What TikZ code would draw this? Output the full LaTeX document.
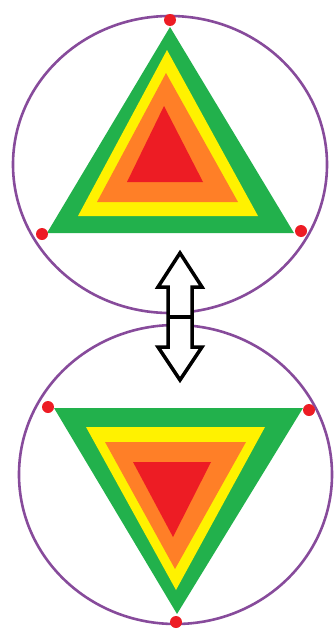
\documentclass[tikz,border=0pt]{standalone}
\definecolor{vienTim}{RGB}{135,75,155}
\definecolor{xanhLa}{RGB}{34,177,76}
\definecolor{vangTuoi}{RGB}{255,242,0}
\definecolor{camDam}{RGB}{255,127,39}
\definecolor{doTuoi}{RGB}{237,28,36}
\begin{document}
\begin{tikzpicture}[x=1pt, y=-1pt,
    vongtron/.style={draw=vienTim, line width=2.6pt},
    chamdo/.style={fill=doTuoi},
    muiten/.style={draw=black, line width=3.5pt, line join=miter, fill=white}]
    % 1. Khung hình
    \useasboundingbox (0,0) rectangle (334,629);

    % 2. Hai đường tròn
    \draw[vongtron] (170,164.5) ellipse [x radius=157, y radius=148.5];
    \draw[vongtron] (175.5,474.5) ellipse [x radius=156.5, y radius=149.5];

    % 3. Tam giác trên (đỉnh hướng lên)
    \fill[xanhLa] (170,27) -- (47,233) -- (294,233) -- cycle;
    \fill[vangTuoi] (167,50) -- (78,216) -- (258,216) -- cycle;
    \fill[camDam] (166,73) -- (97,202) -- (238,202) -- cycle;
    \fill[doTuoi] (164,106) -- (127,182) -- (203,182) -- cycle;

    % 4. Tam giác dưới (đỉnh hướng xuống)
    \fill[xanhLa] (54,408) -- (303,408) -- (177,614) -- cycle;
    \fill[vangTuoi] (86,427) -- (265,427) -- (176,590) -- cycle;
    \fill[camDam] (105,442) -- (246,442) -- (175,569) -- cycle;
    \fill[doTuoi] (133,462) -- (211,462) -- (173,537) -- cycle;

    % 5. Các chấm đỏ
    \foreach \p in {(170,20), (42,234), (301,231), (48,407), (309,410), (176,622)}
        \fill[chamdo] \p circle (6);

    % 6. Mũi tên hai chiều
    \draw[muiten] (180,253) -- (202,287) -- (192,287) -- (192,347) -- (202,347)
        -- (180,380) -- (158,347) -- (168,347) -- (168,287) -- (158,287) -- cycle;
    \draw[black, line width=3.5pt] (168,317) -- (192,317);
\end{tikzpicture}
\end{document}
